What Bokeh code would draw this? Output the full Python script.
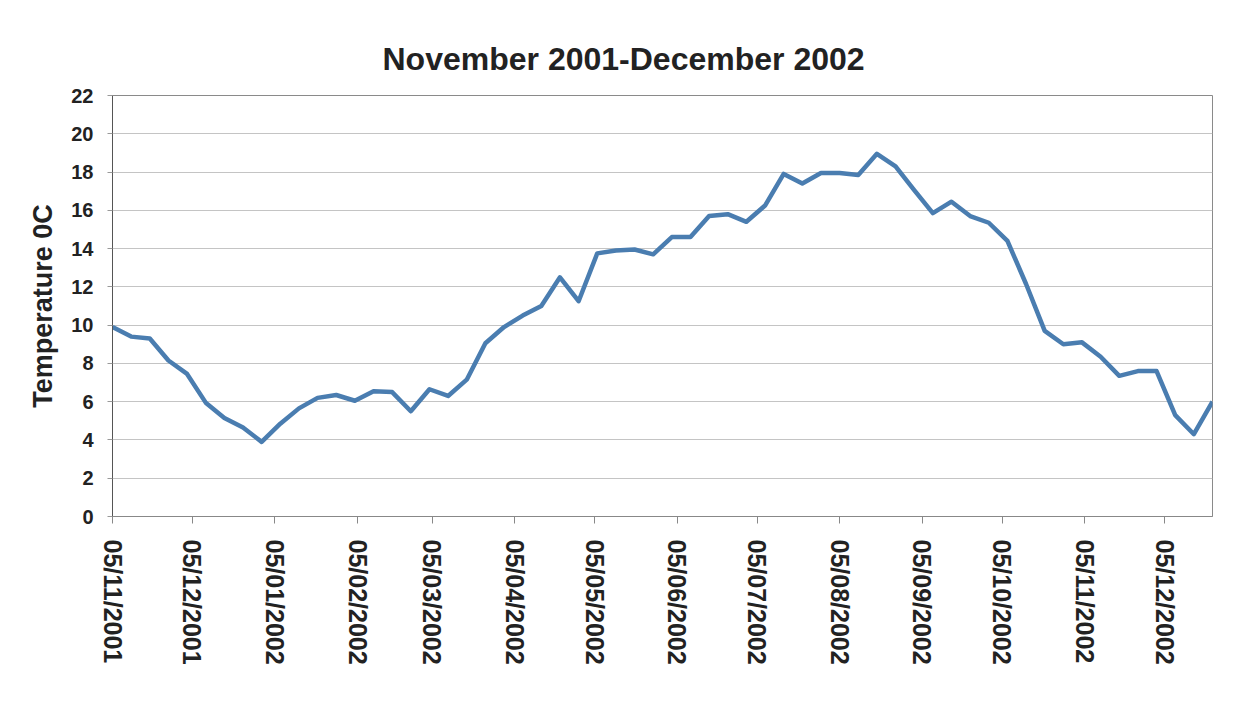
from datetime import datetime
from bokeh.plotting import figure
from bokeh.models import Range1d, FixedTicker, DatetimeTickFormatter, Title
from bokeh.embed import file_html
from bokeh.resources import INLINE

title_text = "November 2001-December 2002"
y_label = "Temperature 0C"

dates = [
    "2001-11-05", "2001-11-12", "2001-11-19", "2001-11-26", "2001-12-03", "2001-12-10",
    "2001-12-17", "2001-12-24", "2001-12-31", "2002-01-07", "2002-01-14", "2002-01-21",
    "2002-01-28", "2002-02-04", "2002-02-11", "2002-02-18", "2002-02-25", "2002-03-04",
    "2002-03-11", "2002-03-18", "2002-03-25", "2002-04-01", "2002-04-08", "2002-04-15",
    "2002-04-22", "2002-04-29", "2002-05-06", "2002-05-13", "2002-05-20", "2002-05-27",
    "2002-06-03", "2002-06-10", "2002-06-17", "2002-06-24", "2002-07-01", "2002-07-08",
    "2002-07-15", "2002-07-22", "2002-07-29", "2002-08-05", "2002-08-12", "2002-08-19",
    "2002-08-26", "2002-09-02", "2002-09-09", "2002-09-16", "2002-09-23", "2002-09-30",
    "2002-10-07", "2002-10-14", "2002-10-21", "2002-10-28", "2002-11-04", "2002-11-11",
    "2002-11-18", "2002-11-25", "2002-12-02", "2002-12-09", "2002-12-16", "2002-12-23",
]

temperature = [
    9.9, 9.4, 9.3, 8.15, 7.45, 5.95, 5.15, 4.65, 3.9, 4.85,
    5.65, 6.2, 6.35, 6.05, 6.55, 6.5, 5.5, 6.65, 6.3, 7.15,
    9.05, 9.9, 10.5, 11.0, 12.5, 11.25, 13.75, 13.9, 13.95, 13.7,
    14.6, 14.6, 15.7, 15.8, 15.4, 16.25, 17.9, 17.4, 17.95, 17.95,
    17.85, 18.95, 18.3, 17.05, 15.85, 16.45, 15.7, 15.35, 14.4, 12.15,
    9.7, 9.0, 9.1, 8.35, 7.35, 7.6, 7.6, 5.3, 4.3, 6.0,
]

x_tick_labels = [
    "05/11/2001", "05/12/2001", "05/01/2002", "05/02/2002", "05/03/2002",
    "05/04/2002", "05/05/2002", "05/06/2002", "05/07/2002", "05/08/2002",
    "05/09/2002", "05/10/2002", "05/11/2002", "05/12/2002",
]
y_ticks = [0, 2, 4, 6, 8, 10, 12, 14, 16, 18, 20, 22]

x = [datetime.strptime(d, "%Y-%m-%d") for d in dates]
tick_dates = [datetime.strptime(t, "%d/%m/%Y") for t in x_tick_labels]
tick_ms = [(d - datetime(1970, 1, 1)).total_seconds() * 1000.0 for d in tick_dates]

FONT = "Liberation Sans"

p = figure(
    x_axis_type="datetime",
    frame_width=1100, frame_height=421,
    min_border_left=112, min_border_right=42, min_border_top=95, min_border_bottom=187,
    output_backend="svg", toolbar_location=None,
    x_range=Range1d(x[0], x[-1]), y_range=Range1d(0, 22),
    background_fill_color="white", border_fill_color="white",
)

p.add_layout(Title(
    text=title_text, align="left", offset=270, standoff=37,
    text_font=FONT, text_font_style="bold", text_font_size="32px",
    text_color="#222222",
), "above")

p.line(x, temperature, line_color="#4a7db0", line_width=4.5, line_join="round")

# grid
p.xgrid.visible = False
p.ygrid.grid_line_color = "#c4c4c4"
p.ygrid.grid_line_width = 1.2
p.outline_line_color = "#8a8a8a"
p.outline_line_width = 1

# y axis
p.yaxis.ticker = FixedTicker(ticks=y_ticks)
p.yaxis.axis_label = y_label
p.yaxis.axis_label_text_font = FONT
p.yaxis.axis_label_text_font_style = "bold"
p.yaxis.axis_label_text_font_size = "27px"
p.yaxis.axis_label_text_color = "#222222"
p.yaxis.axis_label_standoff = 10
p.yaxis.major_label_text_font = FONT
p.yaxis.major_label_text_font_style = "bold"
p.yaxis.major_label_text_font_size = "20px"
p.yaxis.major_label_text_color = "#222222"
p.yaxis.major_label_standoff = 14
p.yaxis.major_tick_out = 5
p.yaxis.major_tick_in = 0
p.yaxis.minor_tick_out = 0
p.yaxis.minor_tick_in = 0
p.yaxis.axis_line_color = "#555555"
p.yaxis.major_tick_line_color = "#999999"

# x axis
p.xaxis.ticker = FixedTicker(ticks=tick_ms)
fmt = "%d/%m/%Y"
p.xaxis.formatter = DatetimeTickFormatter(
    milliseconds=fmt, seconds=fmt, minsec=fmt, minutes=fmt, hourmin=fmt, hours=fmt,
    days=fmt, months=fmt, years=fmt,
)
p.xaxis.major_label_orientation = "vertical"
p.xaxis.major_label_text_font = FONT
p.xaxis.major_label_text_font_style = "bold"
p.xaxis.major_label_text_font_size = "25px"
p.xaxis.major_label_text_color = "#222222"
p.xaxis.major_label_standoff = 16
p.xaxis.major_tick_out = 7
p.xaxis.major_tick_in = 0
p.xaxis.minor_tick_out = 0
p.xaxis.minor_tick_in = 0
p.xaxis.axis_line_color = "#888888"
p.xaxis.major_tick_line_color = "#888888"

open("out.html", "w").write(file_html(p, INLINE))
